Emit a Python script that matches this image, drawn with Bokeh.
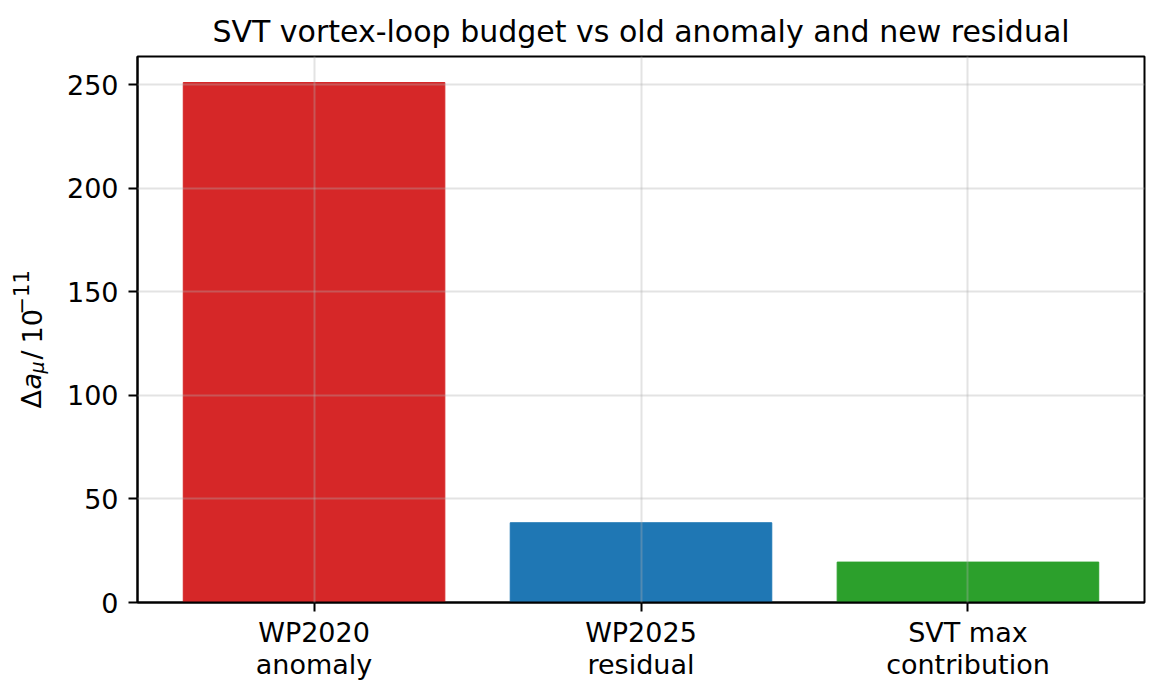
import math
from bokeh.plotting import figure
from bokeh.layouts import row
from bokeh.models import ColumnDataSource, Range1d, FixedTicker
from bokeh.core.properties import value
from bokeh.embed import file_html
from bokeh.resources import INLINE

# bar data
categories = ["WP2020\nanomaly", "WP2025\nresidual", "SVT max\ncontribution"]
values = [251.0, 38.5, 19.5]
colors = ["#d62728", "#1f77b4", "#2ca02c"]
y_ticks = [0, 50, 100, 150, 200, 250]

FONT = "DejaVu Sans"
TOTAL_H = 691
LABEL_W = 60
TOP, FRAME_H, BOTTOM = 56, 546, 89

xs = list(range(len(categories)))
source = ColumnDataSource(data=dict(x=xs, top=values, color=colors))

p = figure(
    frame_width=1007, frame_height=FRAME_H,
    min_border_left=137 - LABEL_W, min_border_right=11,
    min_border_top=TOP, min_border_bottom=BOTTOM,
    output_backend="svg", toolbar_location=None,
    title="SVT vortex-loop budget vs old anomaly and new residual",
)
p.x_range = Range1d(-0.54, 2.54)
p.y_range = Range1d(0, max(values) * 1.05)

p.vbar(x="x", top="top", width=0.8, bottom=0, color="color", source=source)

# title
p.title.align = "center"
p.title.text_font = FONT
p.title.text_font_size = "30px"
p.title.text_font_style = "normal"
p.title.text_color = "black"
p.title.standoff = 15

# frame
p.outline_line_color = "black"
p.outline_line_width = 2
p.outline_line_alpha = 1.0

# axes
p.xaxis.ticker = FixedTicker(ticks=xs)
p.xaxis.major_label_overrides = {i: c for i, c in enumerate(categories)}
p.yaxis.ticker = FixedTicker(ticks=y_ticks)

for ax in (p.xaxis, p.yaxis):
    ax.axis_line_color = "black"
    ax.axis_line_width = 2
    ax.major_tick_line_color = "black"
    ax.major_tick_line_width = 2
    ax.major_tick_out = 9
    ax.major_tick_in = 0
    ax.minor_tick_line_color = None
    ax.major_label_text_font = FONT
    ax.major_label_text_font_size = "27px"
    ax.major_label_text_color = "black"
p.xaxis.major_label_standoff = 5
p.xaxis.major_label_text_line_height = 1.05
p.yaxis.major_label_standoff = 10

# light grid drawn on top of the bars
for g in (p.xgrid, p.ygrid):
    g.grid_line_color = "#b0b0b0"
    g.grid_line_alpha = 0.35
    g.grid_line_width = 2
    g.level = "overlay"

p.background_fill_color = "white"
p.border_fill_color = "white"

# y label "Δa_μ / 10^-11" in a narrow strip left of the plot, pieced together
# so the sub/superscripts sit right. The strip's frame lines up with the main
# frame; data coords are px measured from the page top-left (y flipped).
lab = figure(
    frame_width=LABEL_W, frame_height=FRAME_H,
    x_range=Range1d(0, LABEL_W),
    y_range=Range1d(TOTAL_H - TOP - FRAME_H, TOTAL_H - TOP),
    min_border_left=0, min_border_right=0,
    min_border_top=TOP, min_border_bottom=BOTTOM,
    x_axis_location=None, y_axis_location=None,
    output_backend="svg", toolbar_location=None, title=None,
)
lab.outline_line_color = None
lab.grid.visible = False
lab.border_fill_color = "white"

ylabel_parts = [
    ("Δ", 31, 408, "27px", "normal"),
    ("a", 31, 389, "27px", "italic"),
    ("μ", 36, 373, "19px", "italic"),
    ("/", 31, 359, "27px", "normal"),
    ("10", 31, 343, "27px", "normal"),
    ("−11", 20, 314, "21px", "normal"),
]
for txt, lx, ly, size, style in ylabel_parts:
    lab.text(
        x=[lx], y=[TOTAL_H - ly], text=[txt], angle=math.pi / 2,
        text_font=value(FONT), text_font_size=size,
        text_font_style=style, text_color="black",
        text_align="left", text_baseline="alphabetic",
    )

layout = row(lab, p, spacing=0)

open("out.html", "w").write(file_html(layout, INLINE))
